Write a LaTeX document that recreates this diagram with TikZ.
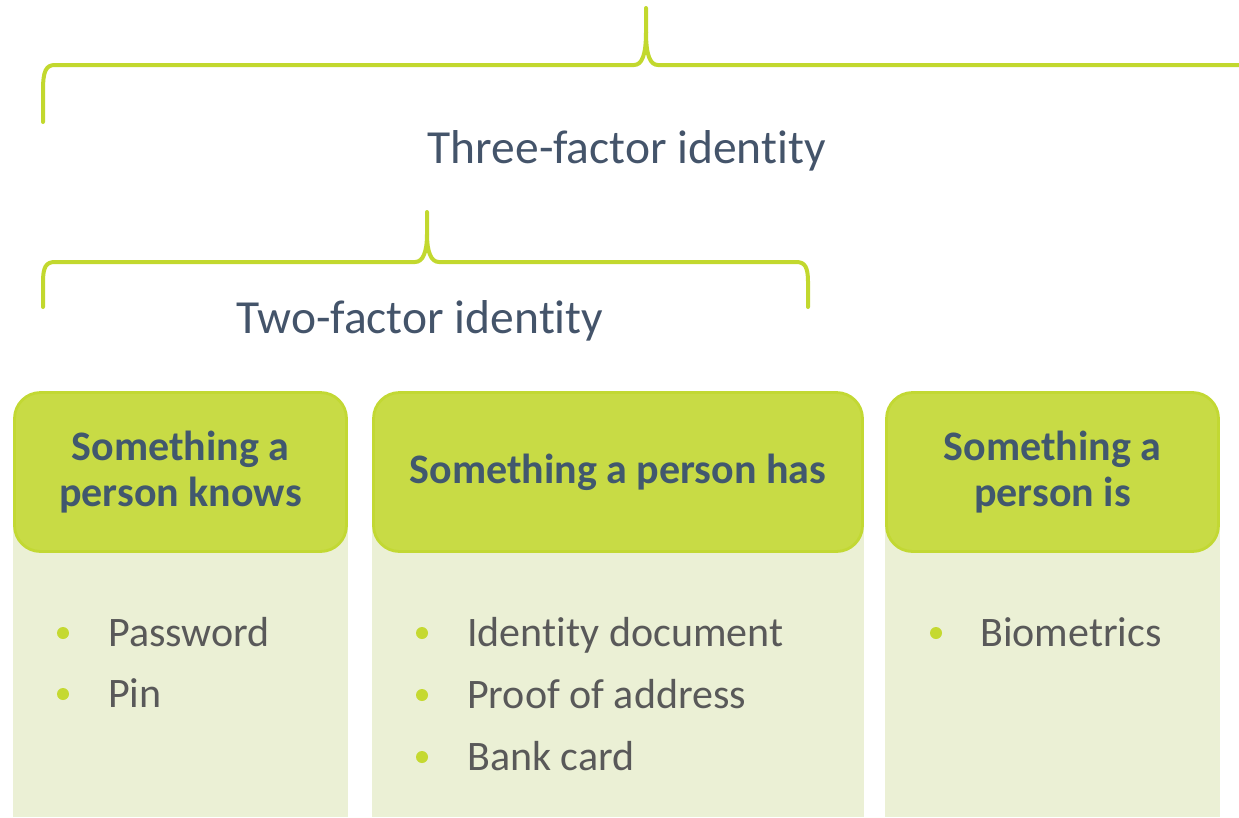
\documentclass[tikz,border=0pt]{standalone}
\usepackage{fontspec}
\setmainfont{Carlito}[RawFeature={-liga;-clig;-calt;-dlig}]
\definecolor{braceline}{HTML}{C2D82E}
\definecolor{headfill}{HTML}{C8DB45}
\definecolor{headedge}{HTML}{C2D833}
\definecolor{panelfill}{HTML}{EBF0D5}
\definecolor{slate}{HTML}{44546A}
\definecolor{headtext}{HTML}{41586E}
\definecolor{itemtext}{HTML}{595959}
\definecolor{dotcol}{HTML}{C5D931}
\begin{document}
\begin{tikzpicture}[x=1pt,y=-1pt,
  brace/.style={draw=braceline, line width=4pt, line cap=round, line join=round},
  bracelabel/.style={anchor=base, inner sep=0pt, text=slate, font=\fontsize{47.5}{57}\selectfont},
  header/.style={draw=headedge, line width=2.8pt, fill=headfill, rounded corners=26pt,
    text=headtext, font=\bfseries\fontsize{42}{46}\selectfont, align=center, inner sep=0pt},
  panel/.style={fill=panelfill, draw=none},
  item/.style={anchor=base west, inner sep=0pt, text=itemtext, font=\fontsize{42}{50}\selectfont},
  bulletdot/.style={circle, fill=dotcol, minimum size=12pt, inner sep=0pt}]
\useasboundingbox (0,0) rectangle (1239,817);

% outer brace: three factors
\draw[brace] (43,122) -- (43,90) .. controls (43,71) and (46,65) .. (55,65)
  -- (634,65) .. controls (642,65) and (646,55) .. (646,32) -- (646,8);
\draw[brace] (646,32) .. controls (646,55) and (650,65) .. (658,65) -- (1245,65);
\node[bracelabel] (three) at (627,163) {Three-factor iden\kern0pt tity};

% inner brace: two factors
\draw[brace] (43,307) -- (43,282) .. controls (43,267) and (46,262) .. (55,262)
  -- (415,262) .. controls (423,262) and (427,252) .. (427,234) -- (427,212);
\draw[brace] (427,234) .. controls (427,252) and (431,262) .. (439,262)
  -- (796,262) .. controls (805,262) and (808,267) .. (808,282) -- (808,307);
\node[bracelabel] (two) at (420,333) {Two-factor iden\kern0pt tity};

% panels
\fill[panel] (13,480) rectangle (348,817);
\fill[panel] (372,480) rectangle (864,817);
\fill[panel] (885,480) rectangle (1220,817);

% headers
\node[header, minimum width=332pt, minimum height=159pt] (knows) at (180.5,472)
  {Something a\\person knows};
\node[header, minimum width=489pt, minimum height=159pt] (has) at (618,472)
  {Something a person has};
\node[header, minimum width=332pt, minimum height=159pt] (is) at (1052.5,472)
  {Something a\\person is};

% items
\node[bulletdot] (d1) at (63,633) {};
\node[item] (i1) at (108,646) {Password};
\node[bulletdot] (d2) at (63,694) {};
\node[item] (i2) at (108,707) {Pin};

\node[bulletdot] (d3) at (422,633) {};
\node[item] (i3) at (467,646) {Iden\kern0pt tity document};
\node[bulletdot] (d4) at (422,695) {};
\node[item] (i4) at (467,708) {Proof of address};
\node[bulletdot] (d5) at (422,757) {};
\node[item] (i5) at (467,770) {Bank card};

\node[bulletdot] (d6) at (936,633) {};
\node[item] (i6) at (980,646) {Biometrics};
\end{tikzpicture}
\end{document}
